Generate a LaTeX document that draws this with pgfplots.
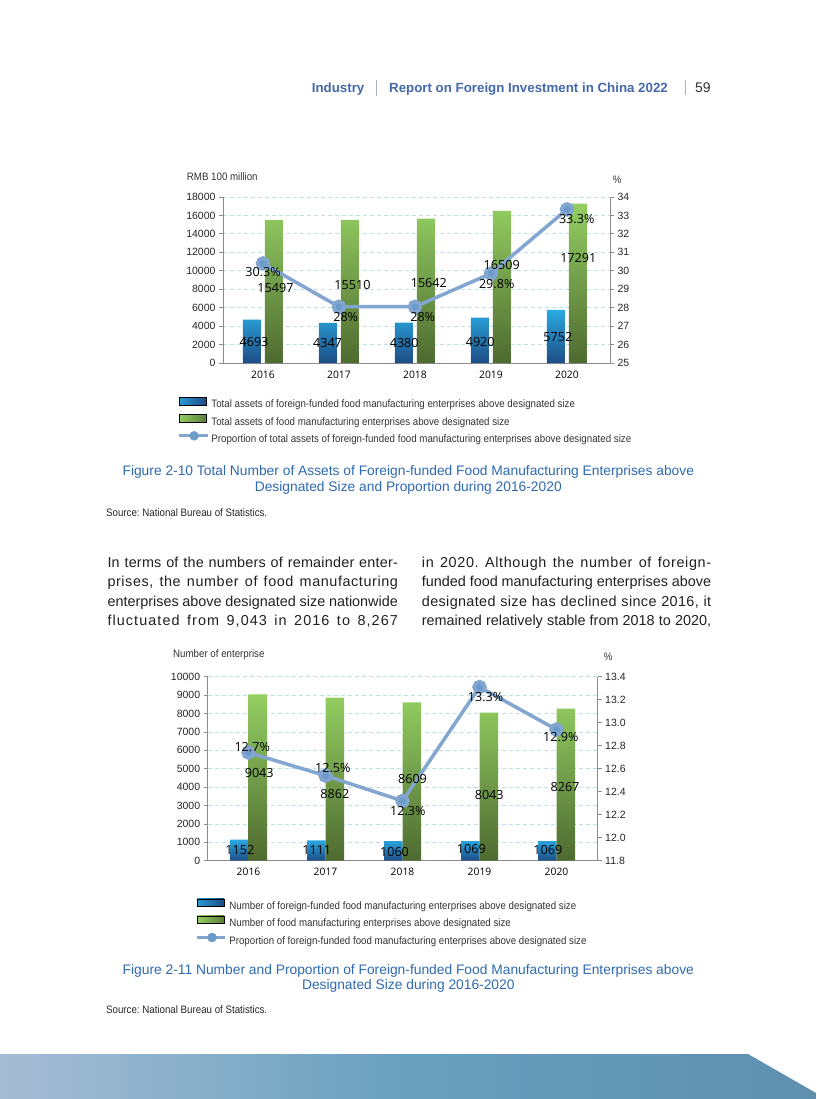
\documentclass[border=0pt]{standalone}
\usepackage{pgfplots}
\pgfplotsset{compat=1.18}
\usepackage{fontspec}
\setmainfont{Liberation Sans}
\newfontfamily\opensans{Open Sans}
\newfontfamily\narrow[FakeStretch=0.9]{Liberation Sans}
\definecolor{hdrblue}{HTML}{4468A8}
\definecolor{capblue}{HTML}{2E6AB1}
\definecolor{sepgray}{HTML}{A3B5CB}
\definecolor{blueTop}{HTML}{2AAAE2}
\definecolor{blueBot}{HTML}{1E4C85}
\definecolor{greenTop}{HTML}{94CF62}
\definecolor{greenBot}{HTML}{4E6A30}
\definecolor{lineblue}{HTML}{82A6D0}
\definecolor{markblue}{HTML}{6C9BCB}
\definecolor{gridblue}{HTML}{BDE0EE}
\definecolor{axgray}{HTML}{8C8C8C}
\definecolor{txt}{HTML}{231F20}
\definecolor{bannerL}{HTML}{A7BCD4}
\definecolor{bannerM}{HTML}{68A0BE}
\definecolor{bannerR}{HTML}{5E8FAE}
\newcommand{\fs}[1]{\fontsize{#1}{#1}\selectfont}
\newcommand{\ls}[1]{\addfontfeature{LetterSpace=#1}}
\frenchspacing

\pgfplotsset{
  barax/.style={
    anchor=south west, scale only axis,
    axis x line*=bottom, axis y line*=left,
    x axis line style={-}, y axis line style={-},
    axis line style={axgray, line width=0.8pt},
    ymajorgrids, major grid style={gridblue, dash pattern=on 4pt off 3pt, line width=0.8pt},
    tick style={axgray, line width=0.8pt}, major tick length=4pt, tick align=outside,
    xtick={0,1,2,3,4}, xticklabels={2016,2017,2018,2019,2020},
    x tick style={draw=none},
    xticklabel style={font=\opensans\fs{10.3}, text=black},
    yticklabel style={font=\fs{10.5}, text=black!85},
    /pgf/number format/assume math mode=true,
    /pgf/number format/1000 sep={},
    scaled y ticks=false,
    legend style={draw=none, fill=none, inner sep=0pt, outer sep=0pt, anchor=north west,
      row sep=4.05pt, font=\narrow\fs{10.8}, text=black!80,
      nodes={inner sep=0pt, text height=8pt, text depth=2pt},
      /tikz/every odd column/.append style={column sep=2.4pt}},
    legend cell align=left,
  },
  lineax/.style={
    anchor=south west, scale only axis,
    axis x line=none, axis y line*=right, y axis line style={-},
    axis line style={axgray, line width=0.8pt},
    tick style={axgray, line width=0.8pt}, major tick length=4pt, tick align=outside,
    yticklabel style={font=\fs{10.5}, text=black!85},
    /pgf/number format/assume math mode=true,
  },
  bluebar/.style={forget plot, ybar, bar width=#1, draw=none, top color=blueTop, bottom color=blueBot},
  greenbar/.style={forget plot, ybar, bar width=#1, draw=none, top color=greenTop, bottom color=greenBot},
  pline/.style={lineblue, line width=3.5pt, mark=*, mark size=5.5pt, mark options={draw=none, fill=markblue}},
  legblue/.style={legend image code/.code={\shade[left color=blueTop!85!blueBot, right color=blueBot] (0pt,0.2pt) rectangle (27pt,7.9pt);}},
  leggreen/.style={legend image code/.code={\shade[left color=greenTop, right color=greenBot!80!greenTop] (0pt,0.2pt) rectangle (27pt,7.9pt);}},
  legline/.style={legend image code/.code={\draw[lineblue, line width=3pt] (0pt,4pt) -- (28.4pt,4pt); \fill[markblue] (15pt,4pt) circle (4.5pt);}},
}

\begin{document}
\begin{tikzpicture}[x=1pt,y=1pt]
\useasboundingbox (0,0) rectangle (816,-1099);
\fill[white] (0,0) rectangle (816,-1099);

% header
\node[anchor=base west, inner sep=0, font=\fs{13.3}\bfseries, text=hdrblue] at (311.7,-92.7) {Industry};
\draw[sepgray, line width=0.8pt] (376,-80) -- (376,-96);
\node[anchor=base west, inner sep=0, font=\fs{13.3}\bfseries, text=hdrblue] at (389,-92.7) {Report on Foreign Investment in China 2022};
\draw[sepgray, line width=0.8pt] (685.7,-80) -- (685.7,-95);
\node[anchor=base west, inner sep=0, font=\fs{14}, text=black!80] at (695,-92.7) {59};

% ===== Chart 1 =====
\node[anchor=base west, inner sep=0, font=\narrow\fs{10.8}, text=black!80] at (186.7,-180.5) {RMB 100 million};
\node[inner sep=0, font=\narrow\fs{10.8}, text=black!80] at (617.3,-179.3) {\%};

\begin{axis}[barax, at={(223pt,-363pt)}, width=387pt, height=166pt,
  xmin=-0.526, xmax=4.566, ymin=0, ymax=18000, ytick={0,2000,...,18000},
  legend style={at={(-0.1173,-0.2036)}}]
\addlegendimage{legblue}
\addlegendentry{Total assets of foreign-funded food manufacturing enterprises above designated size}
\addlegendimage{leggreen}
\addlegendentry{Total assets of food manufacturing enterprises above designated size}
\addlegendimage{legline}
\addlegendentry{Proportion of total assets of foreign-funded food manufacturing enterprises above designated size}
\addplot[bluebar=18pt, bar shift=-11pt] coordinates {(0,4693)(1,4347)(2,4380)(3,4920)(4,5752)};
\addplot[greenbar=18pt, bar shift=11pt] coordinates {(0,15497)(1,15510)(2,15642)(3,16509)(4,17291)};
\end{axis}
\begin{axis}[lineax, at={(223pt,-363pt)}, width=387pt, height=166pt,
  xmin=-0.526, xmax=4.566, ymin=25, ymax=34, ytick={25,26,...,34}]
\addplot[pline] coordinates {(0,30.4)(1,28.05)(2,28.05)(3,29.85)(4,33.33)};
\end{axis}

\begin{scope}[every node/.style={inner sep=0, font=\opensans\fs{12.6}, text=black}]
\node at (254,-341.7) {4693};
\node at (327.5,-342.7) {4347};
\node at (404.2,-342.7) {4380};
\node at (480.2,-341.7) {4920};
\node at (557.8,-336.7) {5752};
\node at (275.5,-287.7) {15497};
\node at (352.5,-285) {15510};
\node at (428.8,-282.7) {15642};
\node at (501.7,-265) {16509};
\node at (578.3,-258.3) {17291};
\node at (263,-272.3) {30.3\%};
\node at (345.7,-316.7) {28\%};
\node at (422.7,-316.7) {28\%};
\node at (496.7,-284.3) {29.8\%};
\node at (576.7,-219) {33.3\%};
\end{scope}

\node[anchor=base, inner sep=0, font=\fs{13.8}, text=capblue] at (408.3,-475.7) {Figure 2-10 Total Number of Assets of Foreign-funded Food Manufacturing Enterprises above};
\node[anchor=base, inner sep=0, font=\fs{13.8}, text=capblue] at (408.3,-491) {Designated Size and Proportion during 2016-2020};
\node[anchor=base west, inner sep=0, font=\narrow\fs{10.8}, text=black!85] at (106,-516) {Source: National Bureau of Statistics.};

% body text
\begin{scope}[every node/.style={anchor=base west, inner sep=0, font=\fs{14.4}, text=txt}]
\node at (107.3,-567.3) {\makebox[290.4pt][s]{\ls{1.5}In terms of the numbers of remainder enter-}};
\node at (107.3,-586.7) {\makebox[290.4pt][s]{\ls{4}prises, the number of food manufacturing}};
\node at (107.3,-606) {\makebox[290.4pt][s]{enterprises above designated size nationwide}};
\node at (107.3,-625.3) {\makebox[290.4pt][s]{\ls{7.5}fluctuated from 9,043 in 2016 to 8,267}};
\node at (421.7,-567.3) {\makebox[289.3pt][s]{\ls{4.5}in 2020. Although the number of foreign-}};
\node at (421.7,-586.7) {\makebox[289.3pt][s]{funded food manufacturing enterprises above}};
\node at (421.7,-606) {\makebox[289.3pt][s]{\ls{2.5}designated size has declined since 2016, it}};
\node at (421.7,-625.3) {\makebox[289.3pt][s]{remained relatively stable from 2018 to 2020,}};
\end{scope}

% ===== Chart 2 =====
\node[anchor=base west, inner sep=0, font=\narrow\fs{10.8}, text=black!80] at (173,-657.8) {Number of enterprise};
\node[inner sep=0, font=\narrow\fs{10.8}, text=black!80] at (608.3,-656.7) {\%};

\begin{axis}[barax, at={(207.7pt,-860.7pt)}, width=390pt, height=184pt,
  xmin=-0.53, xmax=4.535, ymin=0, ymax=10000, ytick={0,1000,...,10000},
  legend style={at={(-0.0311,-0.2054)}}]
\addlegendimage{legblue}
\addlegendentry{Number of foreign-funded food manufacturing enterprises above designated size}
\addlegendimage{leggreen}
\addlegendentry{Number of food manufacturing enterprises above designated size}
\addlegendimage{legline}
\addlegendentry{Proportion of foreign-funded food manufacturing enterprises above designated size}
\addplot[bluebar=18.5pt, bar shift=-9.25pt] coordinates {(0,1152)(1,1111)(2,1060)(3,1069)(4,1069)};
\addplot[greenbar=18.5pt, bar shift=9.25pt] coordinates {(0,9043)(1,8862)(2,8609)(3,8043)(4,8267)};
\end{axis}
\begin{axis}[lineax, at={(207.7pt,-860.7pt)}, width=390pt, height=184pt,
  xmin=-0.53, xmax=4.535, ymin=11.8, ymax=13.4, ytick={11.8,12.0,...,13.41},
  yticklabel style={/pgf/number format/.cd, fixed, fixed zerofill, precision=1}]
\addplot[pline] coordinates {(0,12.74)(1,12.54)(2,12.32)(3,13.31)(4,12.94)};
\end{axis}

\begin{scope}[every node/.style={inner sep=0, font=\opensans\fs{12.6}, text=black}]
\node at (239.8,-850) {1152};
\node at (316.7,-850) {1111};
\node at (394.5,-851.7) {1060};
\node at (471.3,-849.3) {1069};
\node at (547.8,-850) {1069};
\node at (259.2,-773.3) {9043};
\node at (334.8,-794.3) {8862};
\node at (412.5,-779.3) {8609};
\node at (489.2,-795) {8043};
\node at (565,-786.7) {8267};
\node at (252.2,-746.7) {12.7\%};
\node at (332.8,-768.3) {12.5\%};
\node at (407.8,-810.7) {12.3\%};
\node at (485.5,-696.7) {13.3\%};
\node at (560.8,-737.3) {12.9\%};
\end{scope}

\node[anchor=base, inner sep=0, font=\fs{13.8}, text=capblue] at (408.3,-974) {Figure 2-11 Number and Proportion of Foreign-funded Food Manufacturing Enterprises above};
\node[anchor=base, inner sep=0, font=\fs{13.8}, text=capblue] at (408.3,-989.3) {Designated Size during 2016-2020};
\node[anchor=base west, inner sep=0, font=\narrow\fs{10.8}, text=black!85] at (106,-1013.3) {Source: National Bureau of Statistics.};

% footer banner
\shade[left color=bannerL, right color=bannerR, middle color=bannerM] (0,-1054) -- (748,-1054) -- (816,-1093) -- (816,-1099) -- (0,-1099) -- cycle;
\end{tikzpicture}
\end{document}
